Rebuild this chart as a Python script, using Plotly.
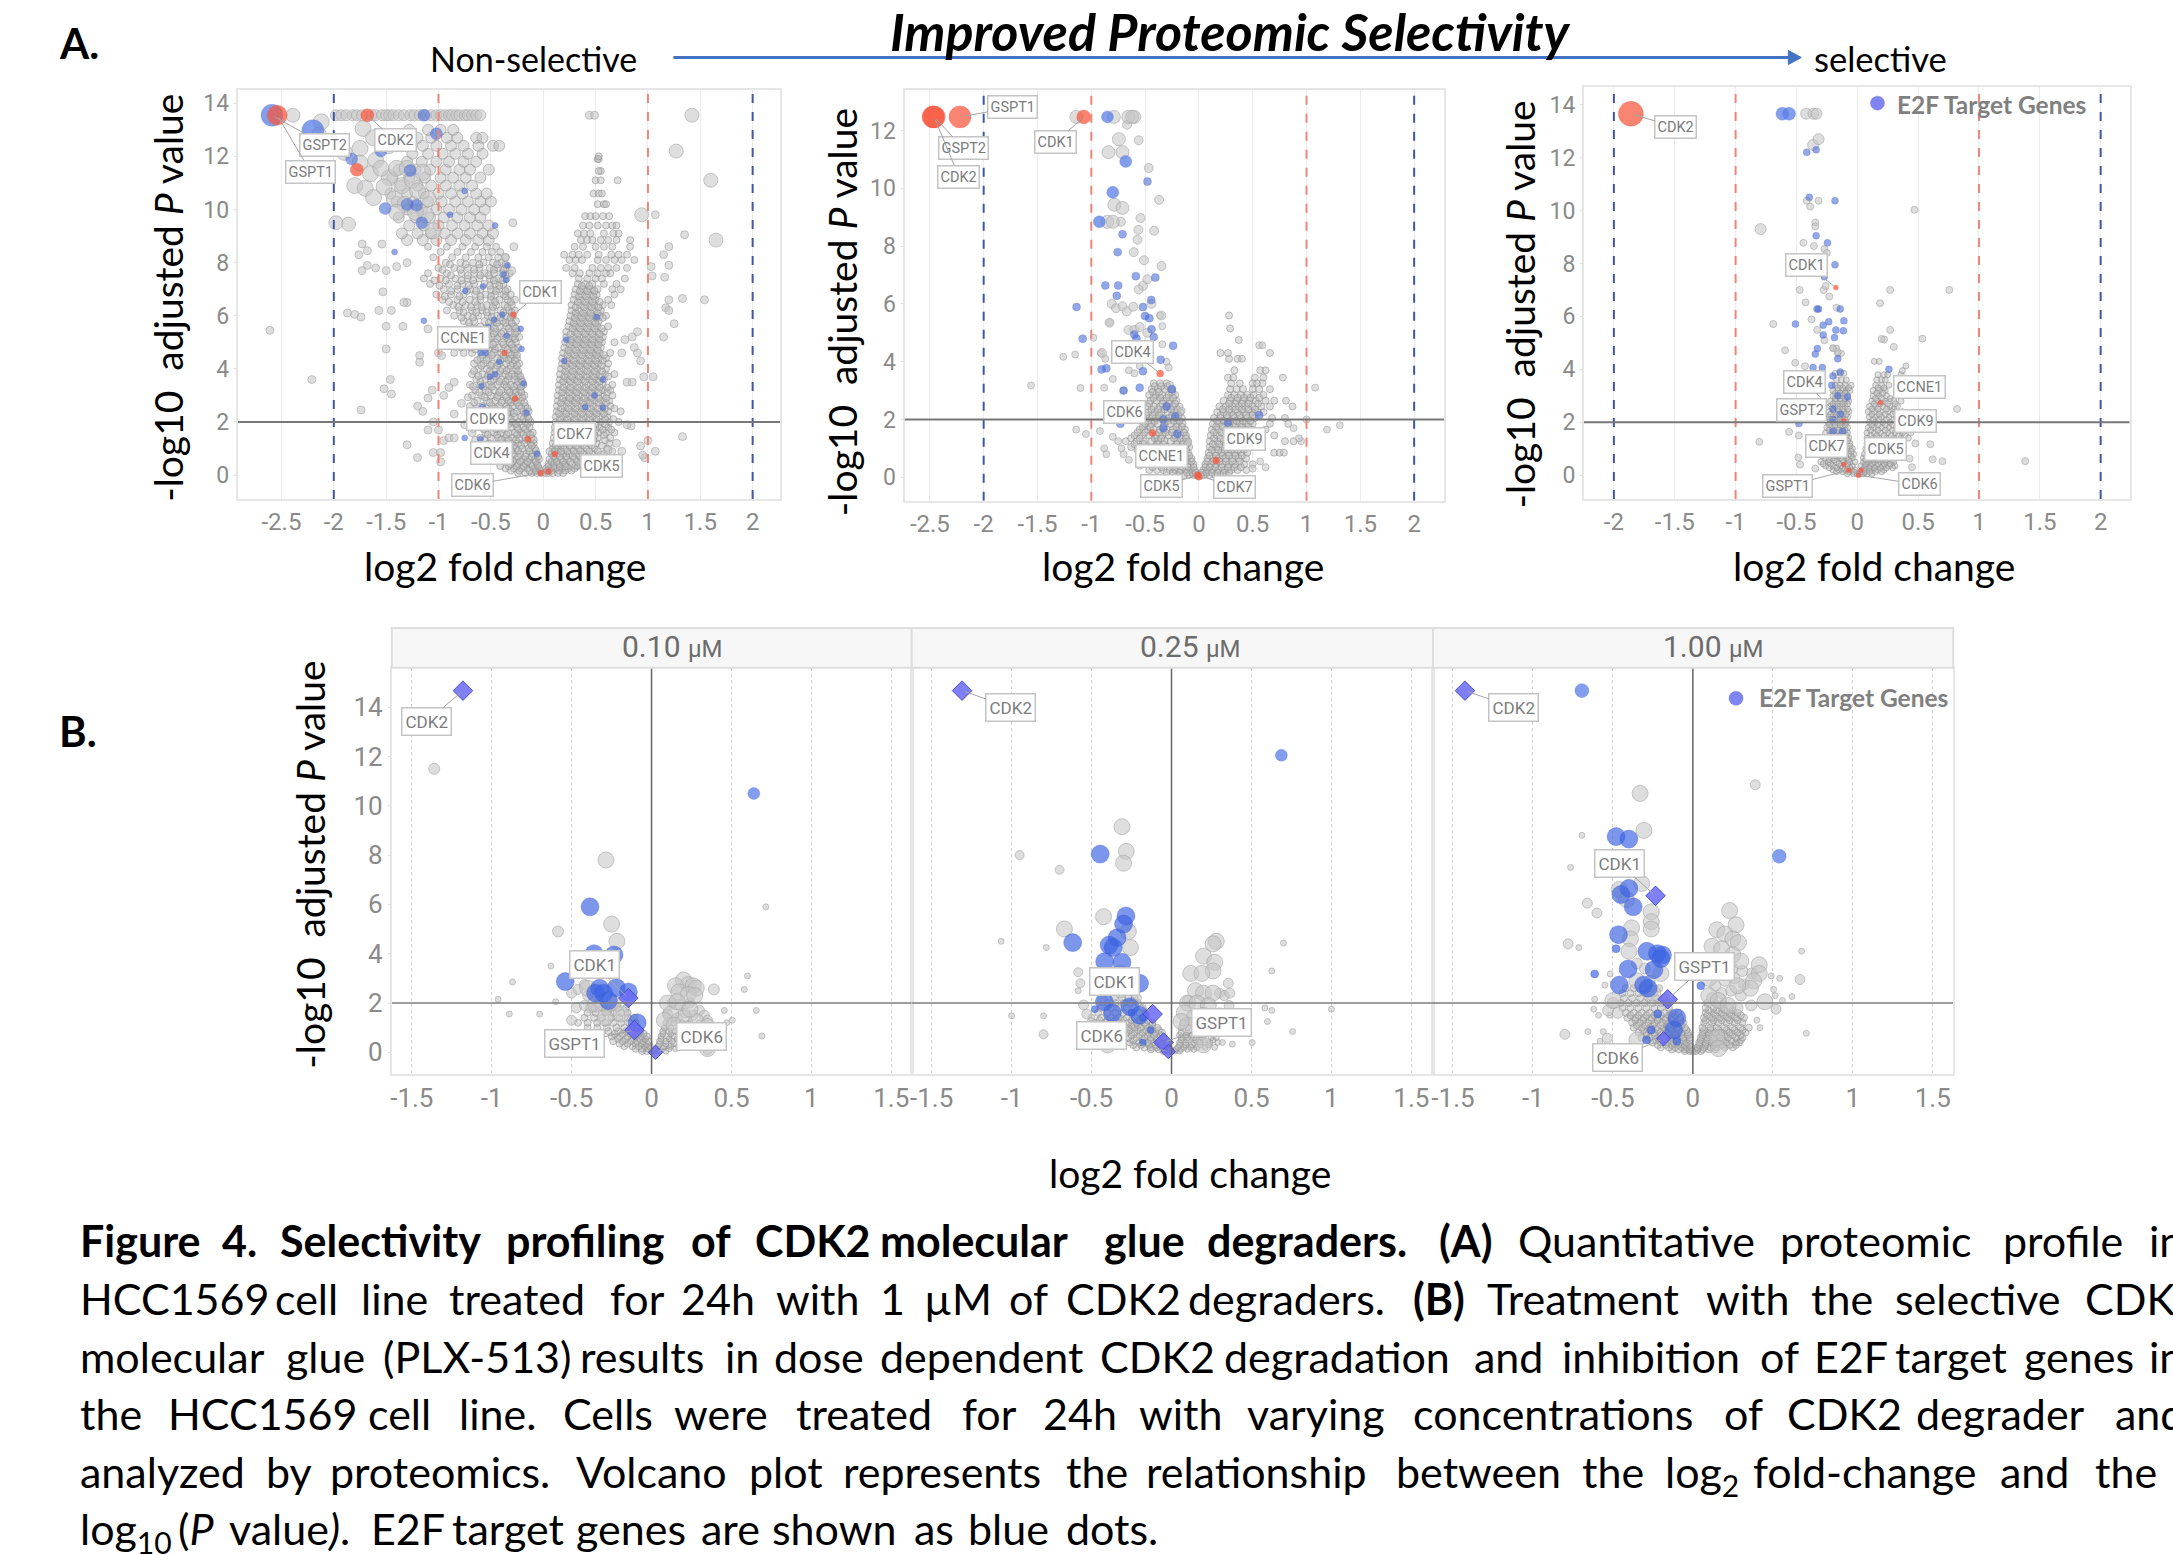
import plotly.graph_objects as go

W, H = 2173, 1555

def expand(rows):
    xs, ys = [], []
    for y, row in rows.items():
        for x in row:
            xs.append(x)
            ys.append(y)
    return xs, ys

# ---------- Panel A1 ----------
a1_left_small = {
 0.08:[-.24,-.17,-.11,-.06,-.02], 0.25:[-.36,-.28,-.21,-.15,-.09,-.04], 0.42:[-.31,-.24,-.17,-.12,-.06],
 0.6:[-.38,-.31,-.26,-.19,-.13,-.08,-.04], 0.8:[-.42,-.35,-.28,-.22,-.16,-.1,-.06], 1.0:[-.47,-.39,-.32,-.26,-.2,-.14,-.08],
 1.2:[-.52,-.44,-.37,-.3,-.24,-.18,-.12,-.09], 1.4:[-.6,-.5,-.43,-.36,-.29,-.23,-.17,-.11], 1.6:[-.55,-.47,-.4,-.33,-.27,-.21,-.15,-.1],
 1.8:[-.62,-.52,-.44,-.37,-.31,-.25,-.19,-.13], 2.0:[-.58,-.49,-.42,-.35,-.29,-.23,-.17,-.12], 2.2:[-.66,-.55,-.47,-.4,-.33,-.27,-.21,-.15],
 2.4:[-.6,-.52,-.44,-.37,-.31,-.25,-.19,-.14], 2.6:[-.7,-.58,-.49,-.42,-.35,-.29,-.23,-.17], 2.8:[-.63,-.54,-.46,-.39,-.33,-.27,-.21],
 3.0:[-.68,-.59,-.5,-.43,-.36,-.3,-.24,-.18], 3.2:[-.65,-.55,-.47,-.4,-.34,-.28,-.22], 3.4:[-.7,-.6,-.52,-.44,-.37,-.31,-.25,-.19],
 3.6:[-.64,-.55,-.47,-.4,-.34,-.27,-.21], 3.8:[-.68,-.58,-.5,-.43,-.36,-.3,-.24], 4.0:[-.62,-.54,-.46,-.39,-.33,-.26],
 4.2:[-.66,-.57,-.49,-.42,-.35,-.29,-.23], 4.4:[-.6,-.52,-.44,-.37,-.31,-.25], 4.6:[-.85,-.76,-.68,-.55,-.47,-.4,-.33,-.27],
 4.8:[-.79,-.7,-.6,-.51,-.43,-.36,-.29,-.24], 5.0:[-.63,-.54,-.46,-.39,-.32,-.26], 5.2:[-.57,-.49,-.42,-.35,-.29,-.23],
 5.4:[-.64,-.53,-.45,-.38,-.31,-.25], 5.6:[-.7,-.6,-.5,-.42,-.35,-.28], 5.8:[-.76,-.66,-.56,-.47,-.39,-.32,-.26],
 6.0:[-.85,-.72,-.62,-.53,-.44,-.36,-.29], 6.2:[-.92,-.8,-.68,-.58,-.49,-.41,-.33,-.27], 6.4:[-.86,-.74,-.63,-.54,-.45,-.37,-.3],
 6.6:[-.96,-.82,-.7,-.6,-.5,-.42,-.34,-.27], 6.8:[-1.02,-.88,-.76,-.65,-.55,-.46,-.38,-.31], 7.0:[-.95,-.82,-.7,-.6,-.5,-.42,-.34],
 7.2:[-1.08,-.9,-.77,-.66,-.56,-.46,-.38], 7.4:[-1.14,-.98,-.84,-.72,-.61,-.51,-.43,-.35], 7.6:[-1.1,-.92,-.78,-.66,-.56,-.47,-.39,-.32],
 7.8:[-1.0,-.85,-.72,-.61,-.51,-.43,-.35], 8.0:[-.93,-.79,-.67,-.57,-.48,-.4], 8.2:[-1.05,-.87,-.74,-.62,-.52,-.43,-.36],
 8.4:[-.98,-.82,-.69,-.58,-.49,-.41], 8.6:[-1.1,-.92,-.77,-.65,-.54,-.45]}
a1_left_fill = {
 .17:[-.31,-.23,-.13,-.07,-.03], .34:[-.41,-.33,-.25,-.19,-.1,-.05], .51:[-.44,-.35,-.29,-.22,-.15,-.07], .7:[-.47,-.33,-.24,-.17,-.11,-.05], .91:[-.5,-.41,-.3,-.24,-.13,-.07],
 1.11:[-.56,-.46,-.35,-.28,-.21,-.11], 1.33:[-.65,-.56,-.4,-.33,-.26,-.15,-.09], 1.52:[-.53,-.44,-.35,-.25,-.19,-.12], 1.73:[-.67,-.57,-.45,-.38,-.24,-.17], 1.92:[-.54,-.46,-.33,-.26,-.15],
 2.12:[-.62,-.51,-.38,-.31,-.19,-.14], 2.33:[-.69,-.56,-.43,-.34,-.28,-.17], 2.51:[-.64,-.54,-.46,-.33,-.21,-.15], 2.73:[-.66,-.51,-.4,-.31,-.25,-.18], 2.93:[-.72,-.56,-.44,-.35,-.28,-.2],
 3.12:[-.61,-.52,-.42,-.32,-.26,-.21], 3.33:[-.67,-.57,-.49,-.35,-.28,-.21], 3.52:[-.6,-.5,-.42,-.36,-.24,-.2], 3.73:[-.62,-.53,-.45,-.33,-.27,-.22], 3.92:[-.66,-.51,-.41,-.35,-.24],
 4.12:[-.59,-.5,-.44,-.31,-.25], 4.33:[-.63,-.54,-.41,-.33,-.27], 4.52:[-.58,-.49,-.38,-.3,-.25], 4.73:[-.65,-.56,-.46,-.34,-.27], 4.92:[-.59,-.48,-.38,-.3],
 5.13:[-.52,-.44,-.33,-.27], 5.33:[-.6,-.47,-.4,-.27], 5.52:[-.65,-.55,-.46,-.33,-.26], 5.73:[-.71,-.52,-.44,-.36,-.3], 5.93:[-.78,-.67,-.49,-.41,-.31],
 6.12:[-.76,-.64,-.54,-.38,-.3], 6.33:[-.81,-.69,-.59,-.48,-.34], 6.52:[-.9,-.77,-.65,-.46,-.31], 6.73:[-.94,-.8,-.6,-.5,-.36], 6.93:[-.88,-.73,-.64,-.45,-.36],
 7.13:[-.99,-.82,-.71,-.51,-.42], 7.33:[-1.04,-.93,-.78,-.67,-.47,-.39], 7.52:[-.88,-.72,-.6,-.52,-.36], 7.73:[-.96,-.79,-.66,-.47,-.38], 7.93:[-.89,-.74,-.61,-.44,-.36]}
a1_upper_mid = {
 8.85:[-1.3,-1.15,-1.02,-.88,-.74,-.62,-.52], 9.1:[-1.35,-1.2,-1.07,-.94,-.82,-.7,-.58,-.48], 9.4:[-1.28,-1.14,-1.0,-.87,-.75,-.63,-.52],
 9.7:[-1.38,-1.22,-1.08,-.95,-.82,-.7,-.6], 10.0:[-1.3,-1.16,-1.02,-.9,-.78,-.66,-.56], 10.3:[-1.4,-1.24,-1.1,-.97,-.84,-.72,-.6,-.5],
 10.6:[-1.46,-1.3,-1.14,-1.0,-.88,-.77,-.64,-.54], 10.9:[-1.36,-1.2,-1.07,-.93,-.8,-.68], 11.2:[-1.44,-1.28,-1.13,-.98,-.86,-.74,-.6],
 11.5:[-1.38,-1.22,-1.08,-.93,-.8,-.7,-.52], 11.8:[-1.3,-1.16,-1.02,-.9,-.76,-.64], 12.1:[-1.25,-1.1,-.96,-.84,-.72,-.58],
 12.4:[-1.15,-1.02,-.88,-.76,-.62,-.48,-.42], 12.7:[-1.2,-1.07,-.92,-.82,-.64,-.58], 13.0:[-1.28,-1.1,-.98,-.86]}
a1_upper_large = [(-1.72,13.05),(-1.62,12.7),(-1.9,12.15),(-1.75,12.3),(-1.6,11.85),(-1.75,11.75),(-1.65,11.35),(-1.8,10.9),
 (-1.7,10.8),(-1.62,10.45),(-1.47,11.2),(-1.4,11.55),(-1.52,10.85),(-1.35,10.9),(-1.25,11.1),(-1.15,11.4),(-1.42,10.4),(-1.32,10.2),
 (-1.12,9.8),(-1.22,9.9),(-1.05,9.2),(-1.4,9.9),(-2.12,13.3),(-1.3,11.55),(-1.2,10.7),(-1.55,11.55),(-1.48,12.4),(-1.1,10.4)]
a1_toprow = [-1.98,-1.93,-1.88,-1.82,-1.78,-1.73,-1.64,-1.6,-1.54,-1.5,-1.47,-1.43,-1.38,-1.33,-1.27,-1.23,-1.18,-1.12,-1.07,-1.02,-.98,-.94,-.9,-.87,-.83,-.8,-.75,-.72,-.68,-.64,-.6]
a1_right_small = {
 0.08:[.02,.05,.09,.14,.19], 0.25:[.03,.07,.12,.18,.24,.3], 0.42:[.05,.1,.15,.21,.28,.35], 0.6:[.06,.11,.17,.23,.3,.37,.45],
 0.8:[.08,.13,.19,.25,.32,.39,.47,.58], 1.0:[.09,.14,.2,.27,.34,.41,.49,.61], 1.2:[.09,.15,.22,.29,.36,.43,.51,.63], 1.4:[.1,.16,.23,.3,.37,.44,.52,.64],
 1.6:[.11,.17,.24,.31,.38,.45,.53,.6,.68], 1.8:[.11,.18,.25,.32,.39,.46,.54,.62], 2.0:[.12,.19,.26,.33,.4,.47,.55,.63,.72],
 2.2:[.12,.19,.26,.33,.4,.47,.54,.61], 2.4:[.13,.2,.27,.34,.41,.48,.55,.62,.74], 2.6:[.13,.2,.27,.34,.41,.48,.56,.64],
 2.8:[.14,.21,.28,.35,.42,.49,.56,.63], 3.0:[.14,.21,.28,.35,.42,.49,.57,.66], 3.2:[.15,.22,.29,.36,.43,.5,.57,.64],
 3.4:[.15,.22,.29,.36,.43,.5,.57,.66], 3.6:[.16,.23,.3,.37,.44,.51,.58], 3.8:[.16,.23,.3,.37,.44,.51,.59,.68], 4.0:[.17,.24,.31,.38,.45,.52,.6],
 4.2:[.18,.25,.32,.39,.46,.53,.62], 4.4:[.18,.25,.32,.39,.46,.53,.6], 4.6:[.19,.26,.33,.4,.47,.54,.64], 4.8:[.2,.27,.34,.41,.48,.55],
 5.0:[.21,.28,.35,.42,.49,.56,.68], 5.2:[.22,.29,.36,.43,.5,.57], 5.4:[.22,.3,.37,.44,.51,.58], 5.6:[.24,.31,.38,.45,.52,.62], 5.8:[.25,.32,.39,.46,.53],
 6.0:[.26,.33,.4,.47,.54,.6], 6.2:[.27,.34,.41,.48,.55], 6.4:[.27,.35,.42,.49,.57,.65], 6.6:[.29,.36,.43,.5,.62], 6.8:[.3,.37,.44,.51,.68],
 7.0:[.31,.38,.45,.52,.66,.74], 7.2:[.33,.4,.47,.58,.7], 7.4:[.34,.42,.5,.56,.78], 7.6:[.28,.35,.44,.52,.6,.64], 7.8:[.22,.3,.47,.55,.62,.7,.8],
 8.1:[.25,.31,.37,.52,.6,.68,.75,.87], 8.3:[.2,.28,.34,.42,.53,.65,.72,.8], 8.6:[.3,.38,.5,.58,.66,.83], 8.85:[.36,.42,.47,.55,.62,.7,.83],
 9.1:[.33,.39,.45,.58,.67,.72], 9.4:[.38,.44,.52,.6,.66,.7], 9.75:[.4,.45,.5,.57,.63], 10.2:[.52,.58,.6], 10.6:[.48,.53,.56], 11.1:[.5,.55,.71], 11.45:[.55,.53], 11.9:[.52,.53], 12.0:[.53]}
a1_right_fill = {
 .17:[.04,.08,.15,.21,.27], .33:[.05,.1,.16,.21,.33,.38], .5:[.08,.13,.19,.26,.33,.41], .71:[.1,.16,.22,.28,.35,.43,.53], .9:[.06,.11,.17,.23,.29,.36,.44,.52,.66],
 1.11:[.12,.17,.25,.31,.38,.46,.56], 1.31:[.13,.19,.26,.33,.4,.48,.59], 1.51:[.14,.21,.27,.35,.41,.49,.58], 1.71:[.14,.2,.28,.35,.43,.5,.57,.65], 1.91:[.15,.22,.29,.36,.43,.5,.59],
 2.11:[.16,.23,.3,.37,.44,.51,.59,.67], 2.31:[.15,.22,.3,.37,.44,.51,.58], 2.51:[.17,.24,.31,.38,.45,.52,.59,.68], 2.72:[.17,.24,.31,.38,.45,.53,.6], 2.9:[.18,.25,.32,.39,.46,.53,.6],
 3.11:[.18,.25,.32,.39,.46,.53,.61], 3.3:[.19,.26,.33,.4,.47,.54,.61], 3.52:[.19,.26,.33,.4,.47,.54], 3.71:[.2,.27,.34,.41,.48,.55,.62], 3.91:[.21,.28,.35,.42,.49,.56],
 4.12:[.21,.28,.35,.42,.49,.56], 4.31:[.22,.29,.36,.43,.5,.57], 4.52:[.23,.3,.37,.44,.51,.58], 4.71:[.24,.31,.38,.45,.52], 4.92:[.25,.32,.39,.46,.53], 5.1:[.26,.33,.4,.47,.54],
 5.31:[.26,.33,.4,.47,.54], 5.52:[.28,.35,.42,.49,.56], 5.72:[.29,.36,.43,.5], 5.92:[.3,.37,.44,.51,.57], 6.11:[.31,.38,.45,.52], 6.32:[.31,.39,.46,.53], 6.52:[.33,.4,.47,.54], 6.73:[.34,.41,.48], 6.93:[.35,.42,.49], 7.12:[.37,.44]}
a1_outliers = [(-2.61,5.45),(-2.21,3.6),(-1.45,3.05),(-1.52,3.25),(-1.74,2.45),(-1.46,3.6),(-1.5,4.75),(-1.87,6.1),(-1.8,6.05),(-1.74,5.95),
 (-1.57,6.2),(-1.45,6.2),(-1.5,5.6),(-1.34,5.6),(-1.3,6.5),(-1.1,5.5),(-1.73,8.7),(-1.76,8.3),(-1.68,8.45),(-1.54,8.7),(-1.68,7.9),(-1.73,7.7),
 (-1.6,7.8),(-1.5,7.7),(-1.4,7.85),(-1.3,8.0),(-1.53,6.9),(-1.33,6.5),(-1.3,1.14),(-1.2,.66),(-1.05,.85),(-.98,.85),(-.98,.5),(-.95,1.3),(-.9,1.4),
 (-.85,1.4),(-1.0,1.7),(-1.1,1.7),(-1.05,2.0),(-1.15,2.4),(-1.2,2.6),(-1.1,2.9),(-1.06,3.2),(-.95,3.0),(-.9,3.3),(-.85,3.5),(-1.18,4.5),(-1.18,4.25),
 (-1.0,4.6),(-.97,4.5),(-.29,9.5),(-.28,8.6),(-.36,8.2),(-.3,7.7),(-.85,2.3),(-.78,2.7),(-.7,2.4),(-.75,1.9),(-.68,1.6),
 (.44,13.55),(.49,13.55),(1.07,9.8),(1.35,9.05),(1.2,8.6),(1.2,7.9),(1.03,7.85),(1.04,7.5),(1.15,8.3),(1.16,7.45),(1.33,6.65),(1.54,6.6),
 (1.2,6.6),(1.17,6.3),(1.2,6.2),(1.25,5.7),(1.15,5.2),(.9,5.4),(.85,5.2),(.78,5.1),(.87,4.8),(.9,4.6),(.75,4.6),(.93,4.3),(.96,3.7),(1.05,3.7),
 (.8,3.5),(.85,3.5),(1.07,.9),(.97,.65),(.95,.75),(1.33,1.45),(1.0,1.3),(.93,1.1),(.84,1.85),(.8,1.9),(.7,1.2),(.62,.95),(.75,.9),(.55,.75),(.72,.65)]
a1_big = [(-2.39,13.55),(1.42,13.55),(1.27,12.2),(1.6,11.1),(.94,9.8),(1.65,8.85),(-2.14,12.85),(-1.86,9.45),(-1.98,9.5)]
a1_blue_huge = [(-2.59,13.55),(-2.2,12.97)]
a1_blue_mid = [(-1.14,13.55),(-1.02,12.85),(-1.55,12.2),(-1.83,11.9),(-1.27,11.47),(-1.51,10.04),(-1.3,10.19),(-1.21,10.16),(-1.16,9.5)]
a1_blue_small = [(-.75,10.7),(-.89,9.8),(-.46,9.4),(-1.42,8.4),(-.34,7.9),(-.38,7.56),(-.355,7.35),(-.575,7.1),(-.745,6.94),(-.39,6.04),(-.47,5.85),
 (-1.14,5.81),(-.525,5.58),(-.215,5.51),(-.35,5.25),(-.207,4.75),(-.6,4.6),(-.55,4.6),(-.42,4.26),(-.46,3.8),(-.51,3.7),(-.186,3.45),(-.59,3.35),
 (-.16,2.35),(-.58,2.57),(-.75,1.4),(-.6,1.35),(.51,5.95),(.22,5.1),(.2,4.3),(.57,3.6),(.49,3.0),(.57,2.54),(.4,2.55),(-.06,.8)]
a1_red_huge = [(-2.54,13.55)]
a1_red_big = [(-1.68,13.55),(-1.78,11.5)]
a1_red_small = [(-.285,6.04),(-.37,4.6),(-.27,2.87),(-.145,1.35),(.11,.79),(.05,.14),(-.025,.08)]

# ---------- Panel A2 ----------
a2_left_small = {
 .08:[-.2,-.14,-.09,-.05,-.02], .25:[-.46,-.39,-.33,-.27,-.22,-.17,-.12,-.08,-.04], .45:[-.5,-.42,-.36,-.3,-.24,-.19,-.14,-.09,-.05],
 .65:[-.47,-.41,-.35,-.29,-.23,-.17,-.11,-.07], .85:[-.53,-.46,-.4,-.33,-.27,-.21,-.15,-.1], 1.05:[-.63,-.55,-.48,-.42,-.36,-.3,-.24,-.18,-.13,-.09],
 1.25:[-.68,-.58,-.51,-.44,-.38,-.32,-.26,-.2,-.14,-.1], 1.45:[-.6,-.53,-.46,-.4,-.34,-.28,-.22,-.17,-.12], 1.65:[-.55,-.48,-.42,-.36,-.3,-.24,-.18,-.13],
 1.85:[-.5,-.44,-.38,-.32,-.26,-.2,-.15], 2.05:[-.52,-.46,-.4,-.34,-.28,-.22,-.16], 2.25:[-.47,-.41,-.35,-.29,-.23,-.17],
 2.45:[-.48,-.42,-.36,-.3,-.24,-.18], 2.65:[-.45,-.39,-.33,-.27,-.21], 2.85:[-.46,-.4,-.34,-.28,-.22], 3.05:[-.44,-.38,-.32,-.26], 3.25:[-.42,-.36,-.3]}
a2_left_fill = {
 .16:[-.3,-.24,-.18,-.11,-.06,-.03], .35:[-.43,-.35,-.24,-.15,-.1,-.05], .55:[-.46,-.33,-.27,-.21,-.12,-.07], .75:[-.5,-.37,-.31,-.25,-.19,-.13,-.09], .95:[-.57,-.43,-.36,-.24,-.18,-.12],
 1.15:[-.6,-.51,-.39,-.33,-.21,-.15,-.11], 1.35:[-.63,-.55,-.41,-.35,-.23,-.17,-.12], 1.55:[-.57,-.5,-.37,-.31,-.25,-.14], 1.75:[-.52,-.45,-.33,-.21,-.16], 1.95:[-.47,-.41,-.29,-.23,-.18],
 2.15:[-.49,-.43,-.37,-.25,-.19], 2.35:[-.44,-.38,-.32,-.26,-.2], 2.55:[-.46,-.34,-.28,-.22], 2.75:[-.42,-.36,-.3,-.24], 2.95:[-.43,-.37,-.25], 3.15:[-.41,-.35,-.29]}
a2_right_small = {
 .08:[.02,.05,.1,.15,.2,.25], .25:[.04,.08,.13,.18,.24,.3,.36,.44], .45:[.06,.11,.16,.22,.28,.34,.42,.5], .65:[.08,.13,.19,.25,.31,.37,.44],
 .85:[.09,.15,.21,.27,.33,.39,.45,.7,.75,.79], 1.05:[.1,.16,.22,.28,.34,.4,.46], 1.25:[.1,.17,.23,.29,.35,.41,.47,.8,.88], 1.45:[.11,.17,.24,.3,.36,.42,.48,.7],
 1.65:[.12,.18,.25,.31,.37,.43,.49,.62], 1.85:[.13,.19,.26,.32,.38,.44,.5,.66,.83], 2.05:[.14,.2,.27,.33,.39,.45,.52,.68,.8], 2.25:[.17,.23,.3,.36,.42,.49,.55,.6],
 2.45:[.19,.25,.31,.37,.43,.5,.58,.66,.87], 2.65:[.23,.29,.35,.41,.47,.53,.62,.7,.81], 2.85:[.27,.33,.39,.45,.51,.6], 3.05:[.29,.35,.41,.5,.56,.66], 3.25:[.3,.38,.5,.54,.59],
 3.45:[.27,.32,.52,.6,.78], 3.7:[.33,.57,.62], 4.1:[.28,.36,.4], 4.3:[.2,.27,.66], 4.75:[.37], 5.15:[.29], 5.6:[.28]}
a2_right_fill = {.16:[.03,.07,.12,.17,.23,.28], .35:[.06,.1,.15,.21,.27,.33,.39], .55:[.08,.13,.19,.25,.31,.38], .75:[.1,.16,.22,.28,.34,.4], .95:[.12,.18,.24,.3,.36,.42], 1.15:[.13,.19,.25,.31,.37,.43],
 1.35:[.14,.2,.26,.32,.38,.44], 1.55:[.14,.21,.27,.33,.39,.45], 1.75:[.16,.22,.28,.34,.4,.46], 1.95:[.17,.23,.29,.35,.41,.48], 2.15:[.2,.26,.32,.38,.44,.5], 2.35:[.22,.28,.34,.4,.46,.52], 2.55:[.28,.34,.4,.46,.55], 2.75:[.3,.36,.42,.48,.56]}
a2_sparse = [(-1.56,3.18),(-1.1,3.09),(-1.26,4.17),(-1.15,4.25),(-.98,4.83),(-.91,4.3),(-.87,4.1),(-.83,5.35),(-.7,3.0),(-.88,3.1),(-.8,3.4),(-.65,3.7),(-.6,3.6),
 (-.55,3.85),(-.34,5.23),(-.36,5.6),(-.34,4.6),(-.3,4.0),(-.28,3.8),(-.27,3.2),(-.25,3.05),(-.16,2.3),(-.1,1.2),(-1.14,1.65),(-1.05,1.5),(-.92,1.6),(-.88,1.0),(-.86,.8),
 (-.8,1.4),(-.75,1.25),(-.7,.8),(-.72,1.0),(-.55,.4),(-.65,.6),(1.08,3.1),(1.19,1.65),(1.31,1.8),(1.0,2.0),(.95,1.25),(.93,1.35),(.88,1.7),(.57,.55),(.62,.35),(.5,.3),(.56,4.57),
 (.59,4.57)]
a2_mid = [(-.466,10.7),(-.37,9.6),(-.543,8.97),(-.725,8.84),(-.563,8.56),(-.416,8.53),(-.57,8.22),(-.605,7.79),(-.51,7.51),(-.347,7.31),(-.48,6.85),(-.52,6.62),(-.56,6.5),
 (-.81,6.0),(-.77,5.85),(-.71,5.92),(-.67,5.74),(-.61,5.9),(-.44,6.0),(-.35,5.6),(-.83,5.35),(-.655,5.1),(-.6,5.1),(-.55,5.2),(-.48,5.0),(-.9,4.3),(-.667,12.2),(-.56,11.66)]
a2_big = [(-1.14,12.47),(-.79,12.47),(-.655,12.47),(-.6,12.47),(-.62,12.47),(-.744,11.7),(-.84,11.25),(-.71,11.25),(-.786,9.43),(-.71,9.32),(-.85,8.84),(-.8,8.84)]
a2_blue_mid = [(-.85,12.47),(-.68,10.93),(-.8,9.86),(-.925,8.84)]
a2_blue_small = [(-.478,10.23),(-.71,8.41),(-.755,7.79),(-.586,6.96),(-.405,6.91),(-.87,6.64),(-.75,6.64),(-.763,6.28),(-.443,6.13),(-1.137,5.89),(-.52,5.89),(-.5,5.58),(-.46,5.5),(-.44,5.12),
 (-1.08,4.79),(-.6,4.94),(-.42,4.85),(-.58,4.8),(-.24,4.55),(-.355,4.07),(-.905,3.73),(-.86,3.77),(-.52,3.67),(-.55,3.1),(-.7,3.0),(-.25,3.05),(-.33,2.0),(-.22,2.1),(.56,2.15),(-.33,1.7),(-.2,1.5),(.27,1.9),(-.73,1.85),(-.3,2.45)]
a2_red_huge = [(-2.46,12.47),(-2.47,12.47),(-2.22,12.47)]
a2_red_big = [(-1.07,12.47)]
a2_red_small = [(-.36,3.59),(-.43,1.53),(.16,.58),(-.01,.07),(0.0,.02)]

# ---------- Panel A3 ----------
a3_left_small = {
 .05:[-.08,-.03,.0], .2:[-.2,-.15,-.1,-.05,-.02], .35:[-.26,-.2,-.14,-.09,-.04], .5:[-.3,-.24,-.17,-.11,-.06,-.02], .65:[-.26,-.2,-.14,-.09,-.04],
 .8:[-.32,-.22,-.17,-.12,-.07,-.03], 1.0:[-.38,-.23,-.18,-.13,-.08,-.04], 1.2:[-.25,-.2,-.15,-.1,-.06], 1.4:[-.25,-.2,-.16,-.11,-.07], 1.6:[-.26,-.21,-.17,-.13,-.08],
 1.8:[-.25,-.21,-.16,-.12,-.08], 2.0:[-.24,-.2,-.16,-.12,-.09], 2.2:[-.24,-.2,-.16,-.12,-.08], 2.4:[-.23,-.19,-.15,-.11,-.07], 2.6:[-.22,-.18,-.14,-.1],
 2.8:[-.22,-.18,-.14,-.1,-.07], 3.0:[-.2,-.16,-.12,-.08], 3.2:[-.2,-.16,-.12,-.09,-.06], 3.4:[-.18,-.14,-.1,-.05], 3.6:[-.17,-.13,-.09], 3.85:[-.18,-.14,-.11], 4.6:[-.16,-.13], 4.8:[-.2,-.17]}
a3_right_small = {
 .05:[.02,.05,.08,.12], .2:[.04,.08,.12,.17,.22], .35:[.03,.07,.11,.16,.21,.26,.31], .5:[.05,.09,.14,.19,.24,.3], .65:[.05,.1,.15,.2,.26,.32],
 .8:[.06,.11,.16,.21,.27,.33], 1.0:[.07,.12,.17,.22,.28,.34], 1.2:[.08,.13,.18,.24,.3,.36], 1.4:[.08,.13,.18,.24,.3,.36,.42], 1.6:[.08,.14,.19,.25,.31,.37,.44],
 1.8:[.09,.14,.2,.26,.32,.38], 2.0:[.1,.15,.21,.27,.33], 2.2:[.1,.15,.2,.26,.32], 2.4:[.09,.14,.19,.25,.31,.37], 2.6:[.1,.15,.21,.27,.33], 2.8:[.12,.17,.23,.3,.36],
 3.0:[.13,.18,.24,.32], 3.2:[.13,.18,.23], 3.4:[.15,.2,.26], 3.6:[.16,.2,.23,.34], 3.8:[.17,.22,.25,.36], 4.3:[.14,.18], 4.13:[.4], 3.95:[.37]}
a3_fill = {.13:[-.17,-.12,-.07,-.03,.03,.06,.1,.15,.2], .28:[-.23,-.17,-.12,-.06,.06,.1,.14,.19,.24,.29], .43:[-.28,-.22,-.15,-.08,.07,.12,.17,.22,.27], .58:[-.23,-.19,-.12,-.07,.07,.12,.17,.23,.29], .73:[-.29,-.19,-.15,-.1,-.05,.08,.13,.18,.24,.3],
 .9:[-.25,-.2,-.15,-.1,-.05,.09,.14,.19,.25,.31], 1.1:[-.21,-.16,-.11,-.06,.1,.15,.2,.26,.32], 1.3:[-.23,-.18,-.13,-.08,.1,.16,.21,.27,.33], 1.5:[-.23,-.18,-.14,-.09,.11,.16,.22,.28,.34,.39], 1.7:[-.23,-.19,-.15,-.1,.11,.17,.23,.29,.35],
 1.9:[-.23,-.18,-.14,-.1,.12,.17,.23,.29,.35], 2.1:[-.22,-.18,-.14,-.1,.13,.18,.24,.3], 2.3:[-.22,-.17,-.13,-.09,.12,.18,.23,.29], 2.5:[-.2,-.16,-.12,-.08,.12,.17,.24,.3], 2.7:[-.2,-.16,-.12,-.08,.14,.19,.25,.31], 2.9:[-.18,-.14,-.1,.15,.2,.27], 3.1:[-.18,-.14,-.1,.16,.21], 3.3:[-.16,-.12,-.07,.17,.22]}
a3_sparse = [(-.415,10.37),(-.318,10.37),(-.387,10.15),(.47,10.03),(-.345,9.55),(-.345,9.4),(-.442,8.78),(-.356,8.66),(-.27,8.55),(-.25,8.4),(-.473,7.0),(-.276,7.0),(-.26,7.15),(.27,7.0),
 (.756,7.0),(-.23,6.75),(.187,6.5),(-.425,6.53),(-.17,6.33),(-.376,5.89),(-.69,5.71),(-.33,5.49),(.27,5.49),(.22,5.13),(.2,5.15),(.535,5.16),(.3,4.85),(-.27,5.1),(-.2,4.8),(-.16,4.65),(-.594,4.72),
 (-.51,4.25),(-.43,4.12),(.82,2.5),(-.805,1.26),(-.56,1.64),(.6,1.17),(.62,.6),(.7,.53),(1.38,.53),(-.47,.4),(-.484,.67),(-.345,.25),(.45,.3),(.43,.63),(.477,1.2),(-.48,1.5),(-.4,1.3)]
a3_mid = [(-.42,13.66),(-.36,13.66),(-.335,13.66),(-.363,12.48),(-.318,12.7),(-.794,9.3)]
a3_blue_mid = [(-.615,13.66),(-.56,13.66)]
a3_blue_small = [(-.338,12.3),(-.415,12.2),(-.394,10.5),(-.183,10.37),(-.338,9.05),(-.245,8.78),(-.183,7.95),(-.27,7.5),(-.318,6.28),(-.33,6.28),(-.14,6.28),(-.11,5.84),(-.235,5.8),(-.28,5.67),(-.508,5.71),(-.176,5.49),
 (-.114,5.46),(-.28,5.3),(-.187,5.2),(-.328,4.79),(-.345,4.58),(-.16,4.4),(-.363,4.07),(-.287,4.07),(-.14,3.9),(.26,4.0),(-.2,3.75),(-.21,3.4),(-.16,3.0),(-.08,2.95),(-.2,2.5),(-.14,2.3),(-.2,2.1),(-.12,1.65),(-.2,1.65),(-.48,1.95)]
a3_red_huge = [(-1.86,13.66)]
a3_red_small = [(-.176,7.09),(.19,2.74),(-.11,2.05),(-.11,.4),(-.07,.19),(.03,.19),(.01,.0)]

# ---------- Panel B1 ----------
b1_small_left = {
 .05:[-.06,-.03,.0], .15:[-.1,-.06,-.02], .25:[-.17,-.12,-.08,-.04,-.01], .35:[-.2,-.15,-.1,-.06,-.03], .45:[-.24,-.18,-.13,-.09,-.05,-.02], .55:[-.21,-.16,-.11,-.07,-.04], .65:[-.25,-.2,-.15,-.1,-.06,-.03], .75:[-.23,-.18,-.13,-.08,-.05], .85:[-.27,-.21,-.16,-.12,-.07],
 1.0:[-.4,-.34,-.28,-.22,-.17,-.13,-.09], 1.2:[-.46,-.4,-.34,-.29,-.24,-.19,-.14,-.1], 1.4:[-.42,-.36,-.31,-.25,-.2,-.15,-.11], 1.6:[-.4,-.35,-.29,-.24,-.19,-.15], 1.8:[-.36,-.31,-.26,-.21,-.16]}
b1_small_right = {.05:[.02,.05,.09], .15:[.03,.07,.11,.15], .25:[.04,.08,.12,.17,.22], .35:[.05,.09,.14,.2,.25], .45:[.05,.09,.13,.18,.24,.33], .55:[.06,.11,.16,.22,.28], .65:[.06,.1,.14,.19,.25,.31], .75:[.07,.12,.17,.23,.29], .85:[.07,.11,.15,.2,.26,.3], 1.0:[.08,.12,.17,.22,.28,.34], 1.2:[.09,.14,.19,.24,.3]}
b1_mid = [(-.5,1.3),(-.47,1.8),(-.5,2.4),(-.46,2.55),(-.42,1.9),(-.38,1.8),(-.33,2.0),(-.42,2.75),(-.4,2.3),(-.28,1.7),(.1,1.55),(.16,1.4),(.21,1.6),(.26,1.5),(.13,2.0),(.18,1.9),(.24,2.0),(.3,1.7),(.33,1.5),(.35,1.3),(.32,.45),(.35,.1)]
b1_large = [(-.285,7.8),(-.25,5.2),(-.217,4.5),(.2,2.93),(.23,2.75),(.26,2.7),(.28,2.6),(.15,2.7),(.17,2.45),(.23,2.35),(.27,2.3),(.1,2.0),(.2,1.4),(.28,1.25),(.35,1.05),(.12,1.55),(-.4,2.6),(-.24,2.0),(-.19,1.55),(.35,.15),(.08,1.3),(.14,1.1),(.22,.95),(.16,2.05),(.24,1.75),(.3,.7),(-.35,1.95),(-.29,1.4)]
b1_grey_one = [(-1.36,11.5),(-.585,4.9),(.39,2.55)]
b1_sparse = [(.715,5.9),(-.63,3.5),(-.87,2.85),(-.96,2.15),(-.89,1.55),(-.7,1.55),(-.6,2.05),(.6,3.1),(.58,2.55),(.455,1.7),(.655,1.7),(.69,.66),(.505,1.3),(.47,1.2),(.45,1.05)]
b1_blue_big = [(-.385,5.9),(-.36,4.0),(-.235,3.95),(-.54,2.87),(-.325,2.6),(-.22,2.62),(-.145,2.45),(-.35,2.4),(-.27,2.1),(-.3,2.4),(-.09,1.2)]
b1_blue_one = [(.64,10.5)]
b1_diamond_big = [(-1.18,14.67),(-.145,2.2),(-.107,.9)]
b1_diamond_small = [(.025,0)]

# ---------- Panel B2 ----------
b2_small_left = {
 .05:[-.05,-.02,.0], .12:[-.13,-.08,-.04,-.01], .2:[-.22,-.17,-.13,-.09,-.05,-.02], .3:[-.24,-.19,-.14,-.1,-.06,-.03], .4:[-.26,-.2,-.15,-.11,-.07,-.03], .5:[-.24,-.18,-.13,-.09,-.05], .6:[-.27,-.22,-.17,-.13,-.09,-.05], .7:[-.25,-.2,-.15,-.11,-.07], .8:[-.28,-.23,-.18,-.14,-.1,-.06], .9:[-.31,-.26,-.21,-.16,-.12,-.08],
 1.0:[-.42,-.37,-.32,-.27,-.23,-.19,-.14,-.09], 1.1:[-.39,-.35,-.3,-.25,-.21,-.16,-.12], 1.2:[-.48,-.42,-.37,-.32,-.27,-.22,-.17,-.12], 1.3:[-.45,-.4,-.35,-.3,-.25,-.2,-.15], 1.4:[-.5,-.44,-.38,-.33,-.28,-.23,-.18], 1.6:[-.46,-.4,-.35,-.3,-.25,-.2,-.16],
 1.8:[-.44,-.38,-.33,-.28,-.23,-.18], 2.0:[-.4,-.35,-.3,-.26,-.21], 2.2:[-.36,-.31,-.27,-.23]}
b2_small_right = {.05:[.02,.05], .12:[.03,.06,.1,.14], .2:[.04,.08,.12,.16,.21,.27], .3:[.05,.09,.13,.18,.23], .4:[.05,.09,.14,.18,.24,.29], .5:[.06,.1,.15,.2,.26], .6:[.06,.1,.14,.19,.25,.28], .7:[.05,.09,.13,.18], .8:[.06,.1,.14,.19], 1.0:[.06,.1,.14,.18,.22], 1.2:[.07,.11,.14]}
b2_mid = [(-.55,1.92),(-.53,1.55),(-.5,1.2),(-.43,2.1),(.36,1.9),(.3,2.4),(.33,2.3),(.1,2.1),(.3,1.6),(.355,2.8),(.365,2.4),(-.22,2.2),(-.28,2.6),(-.32,2.4),(-.25,2.9)]
b2_large = [(-.31,9.15),(-.283,8.15),(-.3,7.67),(-.425,5.5),(-.27,4.9),(-.67,5.0),(-.257,4.25),(.28,4.5),(.26,4.4),(.2,3.9),(.27,3.65),(.26,3.3),(.12,3.2),(.19,3.2),(.15,2.5),(.2,2.4),(.26,2.4),(.1,2.0),(.16,2.0),(.23,1.9),(.2,.3),(-.4,.3),(-.28,3.0),(-.32,3.2),(.08,1.6),(.14,1.4),(.2,1.5),(.1,1.1),(.06,1.25)]
b2_one = [(-.95,8.0),(-.70,7.4),(-.584,3.25),(-.57,2.8),(-.8,.73)]
b2_sparse = [(-1.065,4.5),(-.783,4.25),(-.584,2.5),(-1.0,1.48),(-.8,1.48),(.7,4.43),(.627,3.3),(.584,1.8),(.627,1.7),(.6,1.25),(.757,.84),(1.0,1.75),(.504,.4),(.38,.33),(.318,.4)]
b2_blue_big = [(-.446,8.04),(-.285,5.53),(-.3,5.2),(-.618,4.45),(-.34,4.65),(-.39,4.35),(-.365,4.25),(-.418,3.68),(-.31,3.65),(-.2,2.8),(-.42,2.05),(-.37,1.6),(-.26,1.85),(-.2,1.5)]
b2_blue_small = [(-.48,1.75),(-.25,1.6),(-.18,1.4),(-.13,.9),(-.18,.4)]
b2_blue_one = [(.687,12.05)]
b2_diamond_big = [(-1.31,14.67),(-.118,1.55),(-.05,.4)]
b2_diamond_small = [(-.02,.03)]

# ---------- Panel B3 ----------
b3_small_left = {
 .05:[-.05,-.02,.0], .12:[-.13,-.09,-.05,-.02], .2:[-.2,-.15,-.11,-.07,-.04,-.01], .3:[-.22,-.17,-.13,-.09,-.05,-.02], .4:[-.25,-.2,-.16,-.12,-.08,-.04], .5:[-.28,-.23,-.18,-.14,-.1,-.06,-.02], .6:[-.32,-.27,-.22,-.18,-.14,-.1,-.06,-.02], .7:[-.29,-.24,-.2,-.15,-.11,-.07,-.03], .8:[-.34,-.29,-.24,-.2,-.15,-.11,-.07,-.03], .9:[-.31,-.27,-.22,-.17,-.13,-.09,-.04],
 1.0:[-.37,-.32,-.27,-.23,-.18,-.14,-.1,-.05], 1.1:[-.35,-.3,-.25,-.2,-.16,-.12,-.07], 1.2:[-.38,-.33,-.28,-.24,-.19,-.15,-.11,-.06], 1.3:[-.36,-.31,-.26,-.22,-.17,-.13,-.08], 1.4:[-.41,-.36,-.31,-.26,-.22,-.17,-.13,-.08], 1.5:[-.39,-.34,-.29,-.24,-.2,-.15,-.11], 1.6:[-.42,-.37,-.32,-.27,-.22,-.18,-.13,-.09],
 1.8:[-.44,-.39,-.34,-.29,-.24,-.2,-.15], 2.0:[-.45,-.4,-.35,-.3,-.25,-.2,-.16], 2.2:[-.43,-.38,-.33,-.28,-.23,-.18], 2.4:[-.44,-.39,-.34,-.29,-.24], 2.6:[-.42,-.37,-.31,-.26,-.21]}
b3_small_right = {
 .05:[.02,.05], .12:[.03,.06,.1,.14], .2:[.03,.07,.11,.15,.2,.25], .3:[.04,.08,.13,.18,.23,.27], .4:[.04,.08,.12,.16,.21,.27,.29], .5:[.05,.09,.14,.19,.24,.3], .6:[.05,.09,.13,.17,.22,.27,.31], .7:[.06,.1,.15,.2,.25,.3], .8:[.06,.1,.14,.18,.23,.28,.33], .9:[.07,.11,.16,.21,.26,.31], 1.0:[.06,.11,.15,.2,.25,.3,.35],
 1.2:[.07,.12,.16,.21,.26,.31], 1.3:[.08,.13,.18,.23,.28], 1.4:[.07,.12,.17,.22,.27,.32], 1.5:[.09,.14,.19,.24,.3], 1.6:[.08,.13,.18,.23,.28], 1.7:[.1,.15,.2,.25], 1.8:[.08,.13,.18,.23], 2.0:[.09,.14,.19]}
b3_mid = [(.12,2.2),(.18,2.4),(.24,2.5),(.3,2.3),(.14,2.7),(.2,2.9),(.26,3.0),(.32,2.75),(.13,3.2),(.19,3.3),(.25,3.4),(.31,3.3),(.37,3.2),(.365,1.9),(.28,1.8),(-.5,2.0),(-.47,1.6),(-.53,1.7),(-.3,3.4),(-.35,3.6),(-.27,2.9)]
b3_large = [(-.33,10.5),(-.306,9.0),(-.32,6.85),(-.46,6.6),(-.415,6.2),(-.26,5.7),(-.26,5.3),(-.26,5.0),(-.383,5.05),(-.39,4.6),(-.4,4.1),(.23,5.75),(.27,5.17),(.15,4.97),(.2,4.8),(.25,4.6),(.285,4.45),(.12,4.3),(.18,4.2),(.25,3.95),(.3,3.7),(.415,3.55),(.415,3.2),(.38,2.9),(.36,2.6),(.45,2.05),(.15,.6),(-.35,2.9),(-.5,2.1),(-.25,2.4),(-.2,3.2),(-.35,.5),(.16,.15),(.1,2.3),(.16,2.1),(.22,1.9),(.1,3.0),(.16,3.5),(.28,2.7)]
b3_one = [(.39,10.85),(-.66,6.05),(-.6,5.65),(-.78,4.4),(-.8,.73),(-.535,.57),(.67,2.95),(.52,1.75)]
b3_sparse = [(-.694,8.8),(-.765,7.5),(-.713,4.25),(.68,4.1),(.71,.77),(.62,2.26),(.49,3.1),(.543,3.0),(.505,2.55),(.515,2.3),(.56,2.1),(.4,1.3),(.42,1.0),(-.657,.84),(-.56,.84),(-.614,2.15),(-.62,1.75),(-.55,2.73),(-.517,3.18),(-.59,1.5),(-.52,1.5),(-.58,.45)]
b3_blue_big = [(-.48,8.75),(-.40,8.65),(-.4,6.65),(-.45,6.4),(-.373,5.9),(-.465,4.77),(-.287,4.1),(-.222,4.0),(-.19,3.95),(-.243,3.35),(-.405,3.38),(-.308,2.73),(-.46,2.73),(-.2,3.8),(-.28,2.6),(-.1,1.4),(-.12,.9)]
b3_blue_small = [(-.614,3.18),(-.48,4.2),(-.22,1.55),(-.26,.9),(-.29,.5),(-.1,.45),(.05,2.7)]
b3_blue_one = [(-.694,14.67),(.54,7.95)]
b3_diamond_big = [(-1.425,14.67),(-.233,6.35),(-.157,2.15)]
b3_diamond_small = [(-.183,.55)]

# ---------- Text ----------
tick_a = [-2.5,-2,-1.5,-1,-.5,0,.5,1,1.5,2]
tick_a_text = ["-2.5","-2","-1.5","-1","-0.5","0","0.5","1","1.5","2"]
tick_a3 = [-2,-1.5,-1,-.5,0,.5,1,1.5,2]
tick_a3_text = ["-2","-1.5","-1","-0.5","0","0.5","1","1.5","2"]
tick_b = [-1.5,-1,-.5,0,.5,1,1.5]
tick_b_text = ["-1.5","-1","-0.5","0","0.5","1","1.5"]
y_a1 = [0,2,4,6,8,10,12,14]
y_a2 = [0,2,4,6,8,10,12]
strip_labels = ["0.10","0.25","1.00"]

a1_labels = [("GSPT2",-2.09,12.44,-2.59,13.55),("GSPT1",-2.22,11.41,-2.54,13.55),("CDK2",-1.415,12.6,-1.68,13.55),("CDK1",-.03,6.88,-.285,6.04),
 ("CCNE1",-.765,5.16,-.37,4.6),("CDK9",-.53,2.1,-.27,2.87),("CDK4",-.49,.85,-.145,1.35),("CDK7",.3,1.54,.11,.79),("CDK5",.56,.35,.05,.14),("CDK6",-.68,-.37,-.025,.08)]
a2_labels = [("GSPT1",-1.73,12.8,-2.22,12.47),("GSPT2",-2.19,11.39,-2.46,12.47),("CDK2",-2.23,10.4,-2.46,12.47),("CDK1",-1.33,11.6,-1.07,12.47),("CDK4",-.617,4.34,-.36,3.59),
 ("CDK6",-.69,2.25,-.43,1.53),("CCNE1",-.35,.75,-.43,1.53),("CDK9",.42,1.32,.16,.58),("CDK5",-.35,-.3,-.01,.07),("CDK7",.33,-.32,-.01,.07)]
a3_labels = [("CDK2",-1.49,13.15,-1.86,13.66),("CDK1",-.415,7.95,-.176,7.09),("CDK4",-.43,3.53,-.11,2.05),("CCNE1",.51,3.32,.19,2.74),("GSPT2",-.46,2.45,-.11,2.05),
 ("CDK9",.48,2.05,.19,2.74),("CDK7",-.25,1.1,-.11,.4),("CDK5",.235,.98,.03,.19),("GSPT1",-.57,-.4,-.07,.19),("CDK6",.51,-.35,.01,.0)]
b1_labels = [("CDK2",-1.41,13.4,-1.18,14.67),("CDK1",-.36,3.55,-.145,2.2),("GSPT1",-.48,.37,-.107,.9),("CDK6",.31,.64,.025,0)]
b2_labels = [("CDK2",-1.006,13.98,-1.31,14.67),("CDK1",-.358,2.87,-.118,1.55),("CDK6",-.438,.7,-.02,.03),("GSPT1",.315,1.22,-.05,.4)]
b3_labels = [("CDK2",-1.12,13.98,-1.425,14.67),("CDK1",-.46,7.66,-.233,6.35),("GSPT1",.07,3.48,-.157,2.15),("CDK6",-.47,-.22,-.183,.55)]

caption = [
 (1213,[("<b>Figure</b>",80),("<b>4.</b>",222),("<b>Selectivity</b>",280),("<b>profiling</b>",506),("<b>of</b>",692),("<b>CDK2</b>",756),("<b>molecular</b>",881),("<b>glue</b>",1105),("<b>degraders.</b>",1208),("<b>(A)</b>",1440),("Quantitative",1519),("proteomic",1782),("profile",2005),("in",2151)]),
 (1271,[("HCC1569",80),("cell",275),("line",361),("treated",449),("for",611),("24h",682),("with",777),("1",881),("µM",925),("of",1010),("CDK2",1067),("degraders.",1189),("<b>(B)</b>",1414),("Treatment",1488),("with",1708),("the",1813),("selective",1897),("CDK2",2087)]),
 (1329,[("molecular",80),("glue",286),("(PLX-513)",383),("results",581),("in",726),("dose",775),("dependent",881),("CDK2",1101),("degradation",1225),("and",1475),("inhibition",1563),("of",1762),("E2F",1816),("target",1897),("genes",2026),("in",2151)]),
 (1386,[("the",80),("HCC1569",168),("cell",368),("line.",459),("Cells",564),("were",675),("treated",797),("for",963),("24h",1044),("with",1140),("varying",1248),("concentrations",1414),("of",1726),("CDK2",1789),("degrader",1918),("and",2117)]),
 (1444,[("analyzed",80),("by",266),("proteomics.",330),("Volcano",577),("plot",750),("represents",844),("the",1067),("relationship",1147),("between",1397),("the",1583),("log<sub>2</sub>",1667),("fold-change",1755),("and",2002),("the",2097)]),
 (1501,[("log<sub>10</sub>",80),("(<i>P</i>",178),("value<i>)</i>.",229),("E2F",371),("target",452),("genes",577),("are",702),("shown",773),("as",915),("blue",969),("dots.",1067)]),
]

# ---------- Styles ----------
GREY = dict(fill="rgba(185,185,185,0.45)", line="rgba(140,140,140,0.55)")
PALE = dict(fill="rgba(198,198,198,0.58)", line="rgba(165,165,165,0.6)")
BLUE = dict(fill="rgba(60,100,225,0.68)", line="rgba(60,90,210,0.35)")
BLUE_DIM = dict(fill="rgba(75,110,215,0.6)", line="rgba(90,110,200,0.3)")
BLUE_L = dict(fill="rgba(90,125,230,0.75)", line="rgba(90,120,220,0.3)")
RED = dict(fill="rgba(248,85,60,0.72)", line="rgba(240,90,70,0.3)")
DIAM = dict(fill="rgba(105,105,245,0.85)", line="rgba(70,70,200,0.9)")
BODY = "Lato"
AXF = "Roboto"
TXT = "#8a8a8a"

fig = go.Figure()

panels = {
 "a1": dict(n=1, px=(236,779), py=(90,499), xr=(-2.917,2.264), yr=(-.9,14.5), xt=(tick_a,tick_a_text), yt=y_a1, fs=24, yfs=23),
 "a2": dict(n=2, px=(903.4,1443.6), py=(90,500.7), xr=(-2.735,2.28), yr=(-.81,13.4), xt=(tick_a,tick_a_text), yt=y_a2, fs=24, yfs=23),
 "a3": dict(n=3, px=(1583.4,2129.7), py=(87,499), xr=(-2.246,2.239), yr=(-.9,14.67), xt=(tick_a3,tick_a3_text), yt=y_a1, fs=24, yfs=23),
 "b1": dict(n=4, px=(390.2,910.5), py=(667.7,1074), xr=(-1.625,1.6275), yr=(-.88,15.6), xt=(tick_b,tick_b_text), yt=y_a1, fs=26, yfs=26),
 "b2": dict(n=5, px=(910.5,1432.3), py=(667.7,1074), xr=(-1.625,1.635), yr=(-.88,15.6), xt=(tick_b,tick_b_text), yt=None, fs=26, yfs=26),
 "b3": dict(n=6, px=(1432.3,1953), py=(667.7,1074), xr=(-1.625,1.628), yr=(-.88,15.6), xt=(tick_b,tick_b_text), yt=None, fs=26, yfs=26),
}

layout = dict(width=W, height=H, margin=dict(l=0,r=0,t=0,b=0), autosize=False, paper_bgcolor="white", plot_bgcolor="white", showlegend=False, hovermode=False)
shapes, annots = [], []

for key, p in panels.items():
    n = p["n"]
    isb = key.startswith("b")
    layout[f"xaxis{n}"] = dict(
        domain=[p["px"][0]/W, p["px"][1]/W], range=list(p["xr"]), anchor=f"y{n}", tickvals=p["xt"][0], ticktext=p["xt"][1],
        showgrid=True, gridcolor="#cfcfcf" if isb else "#ececec", griddash="dot" if isb else "solid", gridwidth=1, zeroline=False,
        showline=True, linecolor="#e6e6e6", linewidth=2, mirror=True, ticks="", ticklen=0,
        tickfont=dict(family=AXF, size=p["fs"], color=TXT), ticklabelstandoff=0)
    ya = dict(
        domain=[1-p["py"][1]/H, 1-p["py"][0]/H], range=list(p["yr"]), anchor=f"x{n}", showgrid=False, zeroline=False,
        showline=True, linecolor="#e6e6e6", linewidth=2, mirror=True, tickfont=dict(family=AXF, size=p["yfs"], color=TXT), ticklabelstandoff=0)
    if p["yt"] is None:
        ya.update(tickvals=[], showticklabels=False)
    else:
        ya.update(tickvals=p["yt"], ticks="outside", ticklen=2, tickcolor="#dddddd")
    layout[f"yaxis{n}"] = ya
    xref, yref = ("x" if n == 1 else f"x{n}"), ("y" if n == 1 else f"y{n}")
    if isb:
        shapes.append(dict(type="line", xref=xref, yref=yref, x0=p["xr"][0], x1=p["xr"][1], y0=2, y1=2, line=dict(color="#7d7d7d", width=1.5), layer="above"))
        shapes.append(dict(type="line", xref=xref, yref=yref, x0=0, x1=0, y0=p["yr"][0], y1=p["yr"][1], line=dict(color="#666666", width=1.5), layer="above"))
    else:
        for v, c in ((-2,"#3f56a8"),(2,"#3f56a8"),(-1,"#ee8576"),(1,"#ee8576")):
            shapes.append(dict(type="line", xref=xref, yref=yref, x0=v, x1=v, y0=p["yr"][0], y1=p["yr"][1], line=dict(color=c, width=2, dash="dash"), layer="above"))
        shapes.append(dict(type="line", xref=xref, yref=yref, x0=p["xr"][0], x1=p["xr"][1], y0=2, y1=2, line=dict(color="#777777", width=2.2), layer="above"))


def pts(panel, data, size, st, symbol="circle", lw=1):
    n = panels[panel]["n"]
    if isinstance(data, dict):
        xs, ys = expand(data)
    else:
        xs = [d[0] for d in data]
        ys = [d[1] for d in data]
    fig.add_trace(go.Scatter(x=xs, y=ys, mode="markers", xaxis=f"x{n}", yaxis=f"y{n}",
        marker=dict(size=size, symbol=symbol, color=st["fill"], line=dict(color=st["line"], width=lw))))


# A1
pts("a1", a1_left_small, 7, GREY); pts("a1", a1_left_fill, 7, GREY); pts("a1", a1_right_small, 7, GREY); pts("a1", a1_right_fill, 7, GREY); pts("a1", a1_outliers, 8, PALE)
pts("a1", a1_upper_mid, 11, GREY); pts("a1", {13.55:a1_toprow}, 11, PALE); pts("a1", a1_upper_large, 16, PALE); pts("a1", a1_big, 14, PALE)
pts("a1", a1_blue_huge, 22, BLUE_L); pts("a1", a1_blue_mid, 12, BLUE_DIM); pts("a1", a1_blue_small, 6, BLUE_DIM)
pts("a1", a1_red_huge, 20, RED); pts("a1", a1_red_big, 13, RED); pts("a1", a1_red_small, 6, RED)
# A2
pts("a2", a2_left_small, 7, GREY); pts("a2", a2_left_fill, 7, GREY); pts("a2", a2_right_small, 7, GREY); pts("a2", a2_right_fill, 7, GREY); pts("a2", a2_sparse, 7, PALE); pts("a2", a2_mid, 9, PALE); pts("a2", a2_big, 13, PALE)
pts("a2", a2_blue_mid, 12, BLUE_L); pts("a2", a2_blue_small, 8, BLUE_DIM)
pts("a2", a2_red_huge, 22, RED); pts("a2", a2_red_big, 14, RED); pts("a2", a2_red_small, 7, RED)
# A3
pts("a3", a3_left_small, 6, GREY); pts("a3", a3_right_small, 6, GREY); pts("a3", a3_fill, 6, GREY); pts("a3", a3_sparse, 7, PALE); pts("a3", a3_mid, 11, PALE)
pts("a3", a3_blue_mid, 13, BLUE_L); pts("a3", a3_blue_small, 7, BLUE_DIM)
pts("a3", a3_red_huge, 25, RED); pts("a3", a3_red_small, 5, RED)
# B1
pts("b1", b1_small_left, 7, GREY); pts("b1", b1_small_right, 6, GREY); pts("b1", b1_sparse, 6, PALE); pts("b1", b1_mid, 10, PALE); pts("b1", b1_large, 16, PALE); pts("b1", b1_grey_one, 11, PALE)
pts("b1", b1_blue_big, 18, BLUE); pts("b1", b1_blue_one, 12, BLUE_L)
pts("b1", b1_diamond_big, 15, DIAM, "diamond"); pts("b1", b1_diamond_small, 11, DIAM, "diamond")
# B2
pts("b2", b2_small_left, 7, GREY); pts("b2", b2_small_right, 6, GREY); pts("b2", b2_sparse, 6, PALE); pts("b2", b2_mid, 10, PALE); pts("b2", b2_large, 16, PALE); pts("b2", b2_one, 9, PALE)
pts("b2", b2_blue_big, 18, BLUE); pts("b2", b2_blue_small, 7, BLUE); pts("b2", b2_blue_one, 12, BLUE_L)
pts("b2", b2_diamond_big, 15, DIAM, "diamond"); pts("b2", b2_diamond_small, 11, DIAM, "diamond")
# B3
pts("b3", b3_small_left, 7, GREY); pts("b3", b3_small_right, 7, GREY); pts("b3", b3_sparse, 6, PALE); pts("b3", b3_mid, 11, PALE); pts("b3", b3_large, 16, PALE); pts("b3", b3_one, 10, PALE)
pts("b3", b3_blue_big, 18, BLUE); pts("b3", b3_blue_small, 8, BLUE); pts("b3", b3_blue_one, 14, BLUE_L)
pts("b3", b3_diamond_big, 15, DIAM, "diamond"); pts("b3", b3_diamond_small, 11, DIAM, "diamond")
# legend dots
E2F_DOT = dict(fill="rgba(120,125,240,0.95)", line="rgba(120,125,240,0.5)")
pts("a3", [(.166,14.06)], 14, E2F_DOT)
pts("b3", [(.27,14.36)], 14, E2F_DOT)


def lab(panel, items, size, pad=3):
    n = panels[panel]["n"]
    xref, yref = ("x" if n == 1 else f"x{n}"), ("y" if n == 1 else f"y{n}")
    for name, lx, ly, px_, py_ in items:
        annots.append(dict(text=name, x=px_, y=py_, xref=xref, yref=yref, ax=lx, ay=ly, axref=xref, ayref=yref, showarrow=True, arrowhead=0, arrowwidth=1, arrowcolor="#a5a5a5",
                           font=dict(family=AXF, size=size, color="#7c7c7c"), bgcolor="white", bordercolor="#c4c4c4", borderwidth=1.5, borderpad=pad, standoff=3))

for k, it in (("a1",a1_labels),("a2",a2_labels),("a3",a3_labels)):
    lab(k, it, 14.5, 2)
for k, it in (("b1",b1_labels),("b2",b2_labels),("b3",b3_labels)):
    lab(k, it, 17, 3)


def txt(s, x, y, size, color="black", family=BODY, xanchor="center", yanchor="middle", angle=0):
    annots.append(dict(text=s, x=x/W, y=1-y/H, xref="paper", yref="paper", showarrow=False, xanchor=xanchor, yanchor=yanchor, textangle=angle,
                       font=dict(family=family, size=size, color=color)))

txt("<b>A.</b>", 55, 43, 42, xanchor="left")
txt("<b>B.</b>", 55, 731, 42, xanchor="left")
txt("<b><i>Improved Proteomic Selectivity</i></b>", 1229, 31, 52)
txt("Non-selective", 532, 58, 34)
txt("selective", 1880, 58, 34.5)
# header arrow
shapes.append(dict(type="line", xref="paper", yref="paper", x0=672/W, x1=1790/W, y0=1-57.5/H, y1=1-57.5/H, line=dict(color="#4472c4", width=3)))
shapes.append(dict(type="path", xref="paper", yref="paper", fillcolor="#4472c4", line=dict(color="#4472c4", width=1),
    path=f"M {1788/W} {1-50.5/H} L {1801/W} {1-57.5/H} L {1788/W} {1-64.5/H} Z"))

ytitle = "-log10\u00a0\u00a0adjusted <i>P</i> value"
txt(ytitle, 166, 298, 39, angle=-90)
txt(ytitle, 841, 312, 39, angle=-90)
txt(ytitle, 1519, 305, 39, angle=-90)
txt(ytitle, 308, 865, 39, angle=-90)
for cx, cy in ((503,566),(1182,566),(1874,566),(1189,1173)):
    txt("log2 fold change", cx, cy, 39)

# strips
for (x0, x1), s, cx in zip(((390.2,910.5),(910.5,1432.3),(1432.3,1953)), strip_labels, (671,1190,1713)):
    shapes.append(dict(type="rect", xref="paper", yref="paper", x0=x0/W, x1=x1/W, y0=1-667.7/H, y1=1-628/H, fillcolor="#f7f7f7", line=dict(color="#dedede", width=2)))
    txt(f'{s} <span style="font-size:24px">µM</span>', cx, 646, 30, color="#6c6c6c", family=AXF)

# legend texts
txt("<b>E2F Target Genes</b>", 1895, 105, 24.5, color="#808080", xanchor="left")
txt("<b>E2F Target Genes</b>", 1757, 697, 24.5, color="#808080", xanchor="left")

for ytop, words in caption:
    for w, x in words:
        txt(w, x-4, ytop, 43, xanchor="left", yanchor="top")

layout["shapes"] = shapes
layout["annotations"] = annots
fig.update_layout(**layout)
fig.write_html("out.html", config={"displayModeBar": False}, post_script="document.body.style.margin='0';document.body.style.overflow='hidden';")
